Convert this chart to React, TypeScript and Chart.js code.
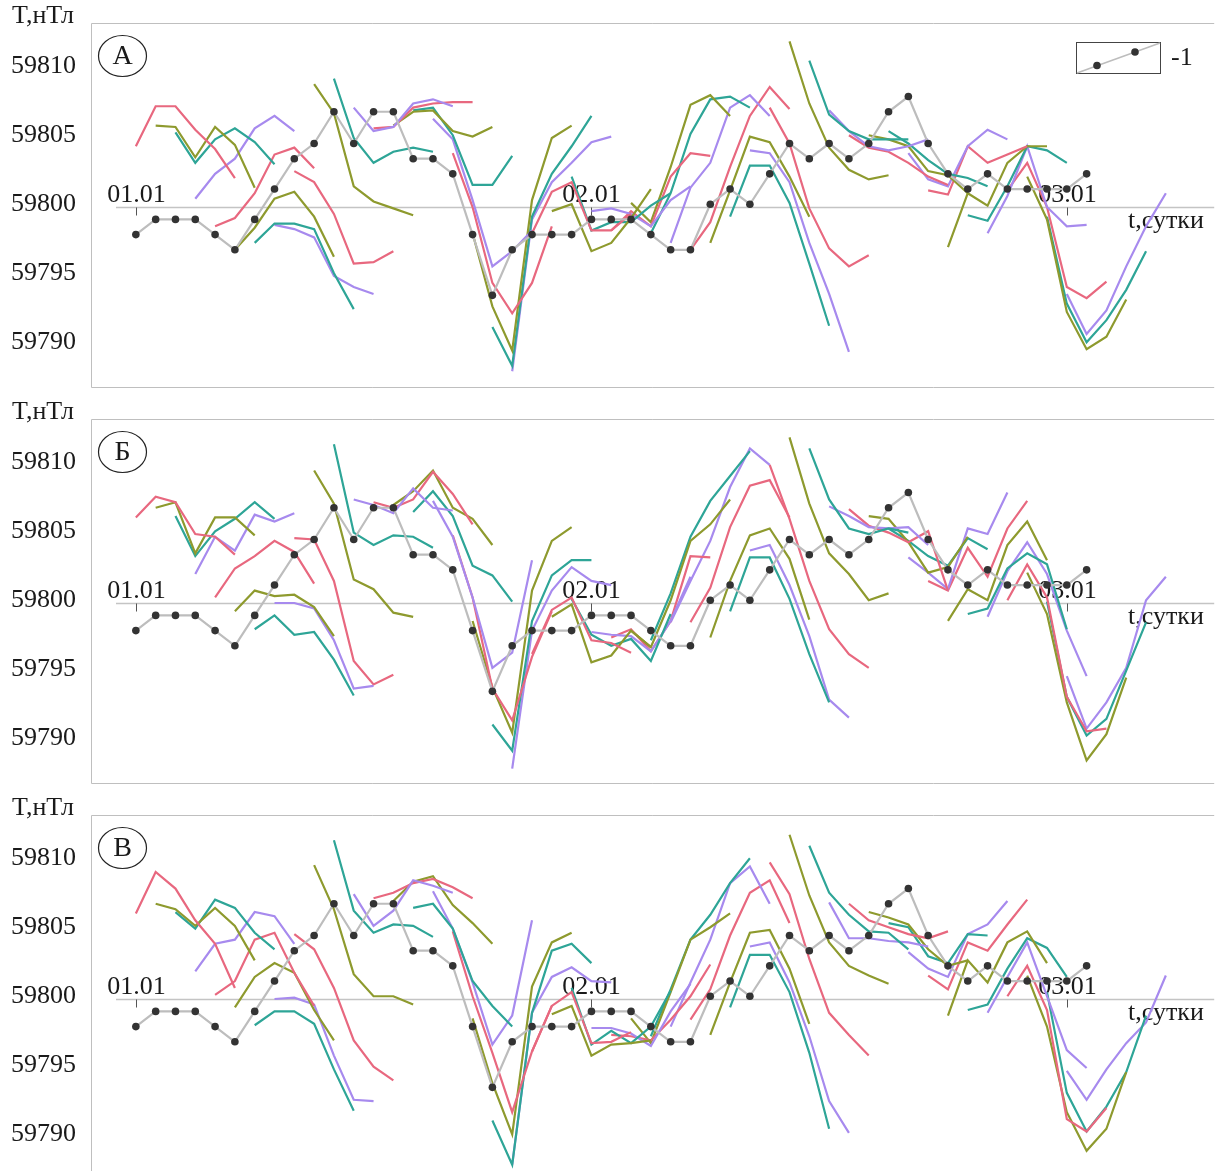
import React, { useEffect, useRef } from "react";
import { Chart, registerables } from "chart.js";

Chart.register(...registerables);

// hour index along the time axis
const HOURS = [
  0, 1, 2, 3, 4, 5, 6, 7, 8, 9, 10, 11, 12, 13, 14, 15, 16, 17, 18, 19, 20,
  21, 22, 23, 24, 25, 26, 27, 28, 29, 30, 31, 32, 33, 34, 35, 36, 37, 38, 39,
  40, 41, 42, 43, 44, 45, 46, 47, 48, 49, 50, 51, 52,
];

// observed series "-1"
const ACTUAL = [
  59798.0, 59799.1, 59799.1, 59799.1, 59798.0, 59796.9, 59799.1, 59801.3,
  59803.5, 59804.6, 59806.9, 59804.6, 59806.9, 59806.9, 59803.5, 59803.5,
  59802.4, 59798.0, 59793.6, 59796.9, 59798.0, 59798.0, 59798.0, 59799.1,
  59799.1, 59799.1, 59798.0, 59796.9, 59796.9, 59800.2, 59801.3, 59800.2,
  59802.4, 59804.6, 59803.5, 59804.6, 59803.5, 59804.6, 59806.9, 59808.0,
  59804.6, 59802.4, 59801.3, 59802.4, 59801.3, 59801.3, 59801.3, 59801.3,
  59802.4,
];

const DAY_TICKS = [0, 23, 47];
const DAY_LABELS = ["01.01", "02.01", "03.01"];
const Y_TICKS = [59790, 59795, 59800, 59805, 59810];
const Y_TICK_LABELS = ["59790", "59795", "59800", "59805", "59810"];
const PANEL_LETTERS = ["А", "Б", "В"];
const LEGEND_LABEL = "-1";
const SERIES_COLORS = ["#E8687F", "#8E9A2E", "#2EA597", "#A78AEE"];

// 6-hour forecasts, row s starts at hour s
const FORECAST_A = [
  [59804.4, 59807.3, 59807.3, 59805.6, 59804.2, 59802.1],
  [59805.9, 59805.8, 59803.6, 59805.8, 59804.5, 59801.4],
  [59805.4, 59803.2, 59804.9, 59805.7, 59804.7, 59803.1],
  [59800.6, 59802.4, 59803.5, 59805.7, 59806.6, 59805.5],
  [59798.6, 59799.2, 59801.0, 59803.8, 59804.3, 59802.8],
  [59796.9, 59798.5, 59800.6, 59801.1, 59799.3, 59796.4],
  [59797.4, 59798.8, 59798.8, 59798.4, 59795.2, 59792.6],
  [59798.7, 59798.4, 59797.8, 59795.0, 59794.2, 59793.7],
  [59802.6, 59801.8, 59799.5, 59795.9, 59796.0, 59796.8],
  [59808.9, 59806.8, 59801.5, 59800.4, 59799.9, 59799.4],
  [59809.3, 59805.0, 59803.2, 59804.0, 59804.3, 59804.0],
  [59807.2, 59805.5, 59805.8, 59807.5, 59807.8, 59807.3],
  [59805.7, 59805.8, 59807.2, 59807.5, 59807.6, 59807.6],
  [59805.9, 59806.9, 59807.0, 59805.5, 59805.1, 59805.8],
  [59807.0, 59807.2, 59805.2, 59801.6, 59801.6, 59803.7],
  [59806.4, 59804.9, 59800.5, 59795.7, 59796.8, 59798.3],
  [59803.9, 59800.0, 59794.5, 59792.3, 59794.5, 59798.6],
  [59798.1, 59792.8, 59789.6, 59800.5, 59805.0, 59805.9],
  [59791.3, 59788.5, 59799.3, 59802.4, 59804.4, 59806.6],
  [59788.1, 59799.1, 59801.8, 59803.2, 59804.7, 59805.1],
  [59798.1, 59801.1, 59801.8, 59798.3, 59798.3, 59799.5],
  [59799.7, 59800.2, 59796.8, 59797.4, 59799.2, 59801.3],
  [59802.2, 59798.3, 59798.9, 59798.9, 59800.1, 59801.0],
  [59799.7, 59799.9, 59799.5, 59798.6, 59800.5, 59801.5],
  [59798.3, 59799.7, 59798.6, 59802.2, 59803.9, 59803.7],
  [59800.3, 59798.9, 59802.9, 59807.4, 59808.1, 59806.6],
  [59798.1, 59801.0, 59805.3, 59807.8, 59808.0, 59807.2],
  [59797.4, 59801.4, 59803.2, 59807.2, 59808.1, 59806.6],
  [59796.9, 59798.9, 59802.9, 59806.6, 59808.7, 59807.1],
  [59797.4, 59801.2, 59805.1, 59804.7, 59802.2, 59799.3],
  [59799.3, 59803.0, 59803.0, 59800.3, 59795.9, 59791.4],
  [59804.1, 59803.9, 59801.8, 59797.4, 59793.7, 59789.5],
  [59807.2, 59804.6, 59799.9, 59797.0, 59795.7, 59796.5],
  [59812.0, 59807.5, 59804.3, 59802.7, 59802.0, 59802.3],
  [59810.6, 59806.7, 59805.5, 59804.9, 59804.9, 59804.9],
  [59807.0, 59805.5, 59804.4, 59804.1, 59804.4, 59804.9],
  [59805.2, 59804.3, 59804.0, 59803.2, 59802.2, 59801.6],
  [59805.2, 59804.9, 59804.4, 59802.6, 59802.3, 59801.0],
  [59805.5, 59804.6, 59803.4, 59802.4, 59802.1, 59801.5],
  [59803.9, 59802.0, 59801.5, 59804.4, 59805.6, 59804.9],
  [59801.2, 59800.9, 59804.4, 59803.2, 59803.8, 59804.4],
  [59797.1, 59801.0, 59800.1, 59803.2, 59804.4, 59804.4],
  [59799.4, 59799.0, 59801.5, 59804.4, 59804.1, 59803.2],
  [59798.1, 59800.8, 59804.4, 59800.0, 59798.6, 59798.7],
  [59801.2, 59803.2, 59800.0, 59794.2, 59793.4, 59794.6],
  [59802.2, 59799.1, 59792.4, 59789.7, 59790.6, 59793.3],
  [59799.3, 59793.0, 59790.2, 59791.8, 59794.0, 59796.8],
  [59793.7, 59790.8, 59792.5, 59795.7, 59798.6, 59801.0],
];

const FORECAST_B = [
  [59806.2, 59807.7, 59807.3, 59805.0, 59804.8, 59803.5],
  [59806.9, 59807.3, 59803.6, 59806.2, 59806.2, 59804.9],
  [59806.3, 59803.4, 59805.2, 59806.1, 59807.3, 59806.1],
  [59802.1, 59804.8, 59803.8, 59806.4, 59805.9, 59806.5],
  [59800.4, 59802.5, 59803.4, 59804.5, 59803.7, 59801.4],
  [59799.4, 59800.9, 59800.5, 59800.6, 59799.7, 59797.6],
  [59798.1, 59799.1, 59797.7, 59797.9, 59795.9, 59793.3],
  [59800.0, 59800.0, 59799.6, 59797.3, 59793.8, 59794.0],
  [59804.7, 59804.6, 59801.6, 59795.8, 59794.1, 59794.8],
  [59809.6, 59807.2, 59801.7, 59801.0, 59799.3, 59799.0],
  [59811.5, 59805.1, 59804.2, 59804.9, 59804.8, 59804.0],
  [59807.5, 59807.1, 59806.5, 59808.3, 59806.9, 59806.7],
  [59807.3, 59806.9, 59807.5, 59809.5, 59807.9, 59805.7],
  [59807.1, 59808.1, 59809.6, 59806.9, 59806.1, 59804.2],
  [59806.6, 59808.1, 59806.3, 59802.7, 59802.0, 59800.1],
  [59807.4, 59804.8, 59800.4, 59795.3, 59796.4, 59803.1],
  [59804.9, 59800.4, 59793.8, 59791.5, 59796.1, 59799.4],
  [59798.7, 59793.9, 59790.6, 59800.9, 59804.5, 59805.5],
  [59791.2, 59789.3, 59798.7, 59802.0, 59803.1, 59803.1],
  [59788.0, 59798.0, 59800.9, 59802.6, 59801.6, 59801.3],
  [59796.3, 59799.5, 59800.4, 59797.3, 59797.1, 59796.4],
  [59799.0, 59799.9, 59795.7, 59796.2, 59798.0, 59796.8],
  [59800.3, 59797.7, 59796.9, 59797.4, 59795.8, 59799.2],
  [59797.9, 59797.7, 59797.6, 59796.5, 59798.7, 59801.9],
  [59797.5, 59798.1, 59796.5, 59798.7, 59803.4, 59803.3],
  [59798.0, 59796.8, 59800.2, 59804.5, 59805.7, 59807.5],
  [59797.3, 59800.7, 59804.8, 59807.4, 59809.2, 59811.0],
  [59798.6, 59801.6, 59804.5, 59808.4, 59811.2, 59810.0],
  [59798.6, 59801.1, 59805.5, 59808.5, 59808.9, 59806.2],
  [59797.5, 59801.6, 59804.9, 59805.4, 59803.2, 59798.8],
  [59799.4, 59803.3, 59803.3, 59800.3, 59796.3, 59792.8],
  [59803.8, 59804.2, 59801.3, 59797.6, 59793.0, 59791.7],
  [59810.0, 59806.1, 59801.6, 59798.1, 59796.3, 59795.3],
  [59812.0, 59807.2, 59803.6, 59802.1, 59800.2, 59800.7],
  [59811.2, 59807.5, 59805.4, 59805.0, 59805.4, 59805.1],
  [59807.0, 59806.3, 59805.5, 59805.4, 59805.5, 59804.2],
  [59806.8, 59805.6, 59805.1, 59804.4, 59805.2, 59800.9],
  [59806.3, 59806.1, 59804.4, 59802.2, 59802.6, 59804.8],
  [59805.4, 59804.5, 59803.4, 59802.7, 59804.7, 59803.9],
  [59803.3, 59802.2, 59801.0, 59805.4, 59805.0, 59808.0],
  [59801.6, 59800.9, 59804.0, 59801.9, 59805.4, 59807.4],
  [59798.7, 59801.0, 59800.2, 59804.2, 59805.9, 59803.1],
  [59799.2, 59799.6, 59802.5, 59803.6, 59802.8, 59798.1],
  [59799.0, 59802.3, 59804.4, 59802.1, 59798.0, 59794.7],
  [59800.2, 59802.8, 59800.4, 59793.2, 59790.7, 59790.9],
  [59802.2, 59799.2, 59792.8, 59788.6, 59790.5, 59794.6],
  [59800.1, 59793.2, 59790.4, 59791.6, 59795.1, 59798.6],
  [59794.7, 59790.9, 59792.8, 59795.3, 59800.2, 59801.9],
];

const FORECAST_C = [
  [59806.2, 59809.2, 59808.0, 59805.7, 59804.0, 59800.8],
  [59806.9, 59806.5, 59805.3, 59806.6, 59805.3, 59802.8],
  [59806.3, 59805.1, 59807.2, 59806.6, 59804.8, 59803.6],
  [59802.0, 59804.0, 59804.3, 59806.3, 59806.0, 59804.0],
  [59800.3, 59801.3, 59804.3, 59804.8, 59801.9, 59799.5],
  [59799.4, 59801.6, 59802.6, 59801.9, 59799.2, 59797.0],
  [59798.1, 59799.1, 59799.1, 59798.2, 59794.9, 59791.9],
  [59800.0, 59800.1, 59799.6, 59795.9, 59792.7, 59792.6],
  [59804.7, 59803.6, 59800.8, 59797.0, 59795.1, 59794.1],
  [59809.7, 59806.5, 59801.8, 59800.2, 59800.2, 59799.6],
  [59811.5, 59806.4, 59804.8, 59805.4, 59805.3, 59804.5],
  [59807.6, 59805.3, 59806.4, 59808.6, 59808.2, 59807.7],
  [59807.3, 59807.7, 59808.4, 59808.7, 59808.1, 59807.3],
  [59807.1, 59808.5, 59808.9, 59806.8, 59805.5, 59804.0],
  [59806.6, 59806.9, 59805.1, 59801.3, 59799.5, 59798.0],
  [59807.8, 59805.1, 59801.2, 59796.7, 59798.8, 59805.7],
  [59804.9, 59800.2, 59796.1, 59791.8, 59796.2, 59799.5],
  [59798.6, 59793.9, 59790.2, 59800.9, 59804.1, 59804.8],
  [59791.2, 59788.0, 59799.0, 59803.5, 59804.0, 59802.6],
  [59788.0, 59799.0, 59801.6, 59802.3, 59801.3, 59801.2],
  [59796.2, 59799.5, 59800.5, 59796.8, 59796.9, 59797.6],
  [59798.9, 59799.5, 59795.9, 59796.7, 59796.8, 59797.0],
  [59800.8, 59796.7, 59797.7, 59796.8, 59798.0, 59800.6],
  [59797.9, 59797.9, 59797.5, 59796.6, 59799.1, 59801.1],
  [59797.4, 59797.3, 59797.0, 59798.5, 59800.2, 59802.5],
  [59798.6, 59796.8, 59800.5, 59804.3, 59805.2, 59806.2],
  [59797.3, 59800.7, 59804.3, 59806.1, 59808.4, 59810.2],
  [59798.0, 59801.2, 59804.3, 59808.4, 59809.6, 59806.9],
  [59798.5, 59800.7, 59804.6, 59807.7, 59808.6, 59805.5],
  [59797.4, 59801.2, 59804.8, 59805.0, 59802.2, 59798.2],
  [59799.4, 59803.2, 59803.2, 59800.5, 59796.1, 59790.6],
  [59803.8, 59804.1, 59801.2, 59797.3, 59792.6, 59790.3],
  [59809.9, 59807.6, 59802.9, 59799.0, 59797.4, 59795.9],
  [59811.9, 59807.5, 59804.1, 59802.4, 59801.7, 59801.1],
  [59811.1, 59807.7, 59806.1, 59804.9, 59804.8, 59803.6],
  [59807.0, 59804.4, 59804.4, 59804.2, 59804.1, 59803.8],
  [59806.9, 59805.7, 59805.2, 59804.7, 59804.4, 59804.9],
  [59806.3, 59805.9, 59805.4, 59803.6, 59802.4, 59802.8],
  [59805.5, 59805.2, 59803.1, 59802.6, 59804.7, 59804.6],
  [59803.4, 59802.2, 59801.6, 59804.7, 59805.4, 59807.1],
  [59801.7, 59800.7, 59804.1, 59803.5, 59805.4, 59807.2],
  [59798.8, 59802.8, 59801.2, 59804.1, 59804.9, 59802.6],
  [59799.2, 59799.6, 59802.2, 59804.4, 59803.7, 59801.6],
  [59799.0, 59801.6, 59804.1, 59800.2, 59796.3, 59795.0],
  [59800.2, 59802.4, 59799.2, 59791.3, 59790.4, 59792.1],
  [59801.7, 59798.0, 59791.8, 59789.0, 59790.6, 59794.7],
  [59800.5, 59793.2, 59790.4, 59792.2, 59794.7, 59798.8],
  [59794.8, 59792.7, 59794.9, 59796.8, 59798.3, 59801.7],
];

const FONT = '"Liberation Serif", "Times New Roman", serif';
const TEXT = "#1a1a1a";
const FRAME = "#bfbfbf";
const CANVAS_W = 1216;
const CANVAS_H = 396;

function makeDecor(letter: string, showLegend: boolean) {
  return {
    id: "decor",
    beforeDatasetsDraw(chart: any) {
      const { ctx, chartArea: ca, scales } = chart;
      const xs = scales.x;
      const ys = scales.y;
      const ay = Math.round(ys.getPixelForValue(59800)) + 0.5;
      ctx.save();
      // frame (top, left, bottom)
      ctx.strokeStyle = FRAME;
      ctx.lineWidth = 1;
      ctx.beginPath();
      ctx.moveTo(ca.right + 2, Math.round(ca.top) + 0.5);
      ctx.lineTo(Math.round(ca.left) + 0.5, Math.round(ca.top) + 0.5);
      ctx.lineTo(Math.round(ca.left) + 0.5, Math.round(ca.bottom) + 0.5);
      ctx.lineTo(ca.right + 2, Math.round(ca.bottom) + 0.5);
      ctx.stroke();
      // time axis crossing at 59800
      ctx.strokeStyle = "#c4c4c4";
      ctx.lineWidth = 1.3;
      ctx.beginPath();
      ctx.moveTo(116, ay);
      ctx.lineTo(ca.right + 2, ay);
      ctx.stroke();
      // day ticks and labels
      ctx.strokeStyle = "#555";
      ctx.lineWidth = 1;
      ctx.fillStyle = TEXT;
      ctx.font = `26px ${FONT}`;
      ctx.textAlign = "center";
      ctx.textBaseline = "alphabetic";
      DAY_TICKS.forEach((t, i) => {
        const px = Math.round(xs.getPixelForValue(HOURS[t])) + 0.5;
        ctx.beginPath();
        ctx.moveTo(px, ay);
        ctx.lineTo(px, ay + 8);
        ctx.stroke();
        ctx.fillText(DAY_LABELS[i], px, ay - 6);
      });
      ctx.textAlign = "left";
      ctx.fillText("t,сутки", 1128, ay + 20);
      // y tick labels
      ctx.textBaseline = "middle";
      Y_TICKS.forEach((v, i) => {
        ctx.fillText(Y_TICK_LABELS[i], 11, ys.getPixelForValue(v) - 3);
      });
      ctx.fillText("T,нТл", 12, ca.top - 7);
      ctx.restore();
    },
    afterDatasetsDraw(chart: any) {
      const { ctx } = chart;
      ctx.save();
      // panel letter in an oval
      ctx.strokeStyle = "#222";
      ctx.lineWidth = 1.2;
      ctx.beginPath();
      ctx.ellipse(122.5, 56, 24, 20.5, 0, 0, Math.PI * 2);
      ctx.fillStyle = "#fff";
      ctx.fill();
      ctx.stroke();
      ctx.fillStyle = TEXT;
      ctx.font = `28px ${FONT}`;
      ctx.textAlign = "center";
      ctx.textBaseline = "middle";
      ctx.fillText(letter, 122.5, 57);
      if (showLegend) {
        ctx.strokeStyle = "#444";
        ctx.lineWidth = 1;
        ctx.fillStyle = "#fff";
        ctx.fillRect(1076.5, 42.5, 84, 31);
        ctx.strokeRect(1076.5, 42.5, 84, 31);
        ctx.strokeStyle = "#bdbdbd";
        ctx.lineWidth = 1.5;
        ctx.beginPath();
        ctx.moveTo(1077, 73);
        ctx.lineTo(1160, 43);
        ctx.stroke();
        ctx.fillStyle = "#333";
        [
          [1097, 65.5],
          [1135, 52],
        ].forEach(([cx, cy]) => {
          ctx.beginPath();
          ctx.arc(cx, cy, 3.8, 0, Math.PI * 2);
          ctx.fill();
        });
        ctx.fillStyle = TEXT;
        ctx.font = `26px ${FONT}`;
        ctx.textAlign = "left";
        ctx.fillText(LEGEND_LABEL, 1171, 58);
      }
      ctx.restore();
    },
  };
}

function Panel(props: { letter: string; forecasts: number[][]; legend: boolean; top: number }) {
  const ref = useRef<HTMLCanvasElement | null>(null);
  useEffect(() => {
    if (!ref.current) return;
    const datasets: any[] = [
      {
        label: LEGEND_LABEL,
        data: ACTUAL.map((v, i) => ({ x: HOURS[i], y: v })),
        borderColor: "#bdbdbd",
        borderWidth: 2.2,
        pointRadius: 3.8,
        pointBackgroundColor: "#333",
        pointBorderWidth: 0,
        pointHoverRadius: 3.8,
        tension: 0,
      },
    ];
    props.forecasts.forEach((row, s) => {
      datasets.push({
        label: "f" + s,
        data: row.map((v, i) => ({ x: HOURS[s + i], y: v })),
        borderColor: SERIES_COLORS[s % 4],
        borderWidth: 2.2,
        pointRadius: 0,
        pointHoverRadius: 0,
        tension: 0,
      });
    });
    const chart = new Chart(ref.current, {
      type: "line",
      data: { datasets },
      options: {
        animation: false,
        responsive: false,
        devicePixelRatio: 1,
        events: [],
        layout: { padding: { left: 90.5, top: 23, right: 0, bottom: 9 } },
        plugins: { legend: { display: false }, tooltip: { enabled: false } },
        scales: {
          x: { type: "linear", display: false, min: -2.29, max: 54.34 },
          y: { type: "linear", display: false, min: 59786.96, max: 59813.33 },
        },
      },
      plugins: [makeDecor(props.letter, props.legend)],
    } as any);
    return () => chart.destroy();
  }, []);
  return (
    <canvas
      ref={ref}
      width={CANVAS_W}
      height={CANVAS_H}
      style={{ position: "absolute", left: 0, top: props.top, width: CANVAS_W, height: CANVAS_H }}
    />
  );
}

export default function App() {
  return (
    <div
      style={{
        position: "absolute",
        left: 0,
        top: 0,
        width: 1216,
        height: 1171,
        overflow: "hidden",
        background: "#fff",
      }}
    >
      <Panel letter={PANEL_LETTERS[0]} forecasts={FORECAST_A} legend={true} top={0} />
      <Panel letter={PANEL_LETTERS[1]} forecasts={FORECAST_B} legend={false} top={396} />
      <Panel letter={PANEL_LETTERS[2]} forecasts={FORECAST_C} legend={false} top={792} />
    </div>
  );
}
